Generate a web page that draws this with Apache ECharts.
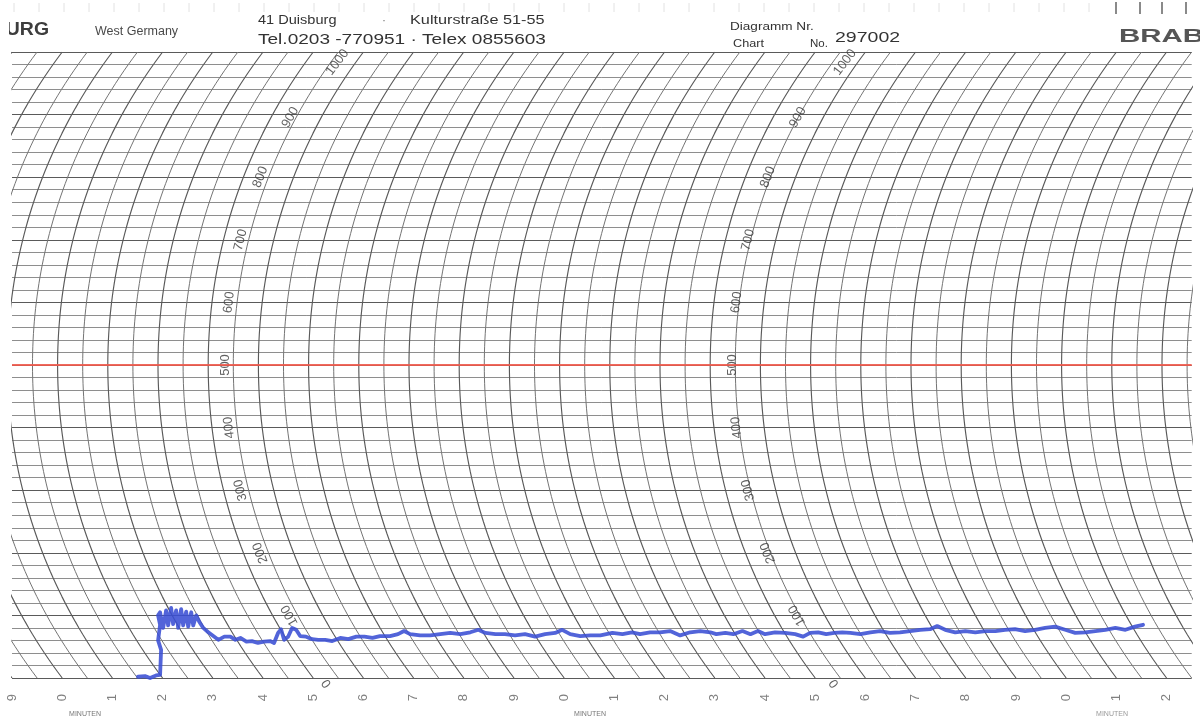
<!DOCTYPE html>
<html>
<head>
<meta charset="utf-8">
<title>Brabender Diagramm 297002</title>
<script src="https://cdn.jsdelivr.net/npm/echarts@6/dist/echarts.min.js"></script>
<style>
  html, body { margin: 0; padding: 0; background: #ffffff; }
  #chart { width: 1200px; height: 720px; }
</style>
</head>
<body>
<div id="chart"></div>
<script>
// Recorded trace: time in minutes, torque in Brabender units (BU)
const traceMinutes = [
  1.51, 1.65, 1.75, 1.87, 1.95, 1.97, 1.91, 1.95, 1.91,
  1.95, 2.01, 2.07, 2.11, 2.17, 2.21, 2.27, 2.31, 2.37, 2.41, 2.47, 2.51, 2.57, 2.61, 2.67, 2.73,
  2.81, 2.91, 3.01, 3.11, 3.23, 3.35, 3.45, 3.55, 3.67, 3.78, 3.90, 4.02, 4.14, 4.22,
  4.30, 4.36, 4.42, 4.50, 4.58, 4.66, 4.74, 4.86, 4.98, 5.10, 5.24, 5.38, 5.54, 5.70,
  5.86, 6.02, 6.18, 6.33, 6.53, 6.69, 6.81, 6.93, 7.13, 7.33, 7.53, 7.73, 7.93, 8.13,
  8.29, 8.43, 8.63, 8.82, 9.02, 9.22, 9.42, 9.62, 9.82, 9.96, 10.12, 10.32, 10.52, 10.72,
  10.96, 11.16, 11.35, 11.51, 11.71, 11.91, 12.11, 12.31, 12.51, 12.71, 12.91, 13.03,
  13.21, 13.37, 13.55, 13.71, 13.86, 14.00, 14.20, 14.40, 14.60, 14.76, 14.90, 15.06,
  15.22, 15.38, 15.54, 15.70, 15.90, 16.10, 16.29, 16.49, 16.69, 16.89, 17.09, 17.29,
  17.43, 17.59, 17.79, 17.99, 18.19, 18.39, 18.59, 18.78, 18.98, 19.18, 19.38, 19.58,
  19.78, 19.98, 20.18, 20.38, 20.58, 20.78, 20.98, 21.18, 21.37, 21.53
];
const traceBU = [
  2, 3, 0, 4, 5, 45, 60, 85, 100,
  105, 80, 108, 84, 112, 86, 108, 80, 110, 84, 106, 82, 105, 84, 100, 90,
  80, 73, 67, 61, 66, 66, 61, 64, 58, 59, 56, 58, 59, 56,
  72, 78, 61, 66, 80, 77, 67, 66, 62, 61, 61, 59, 64, 62,
  66, 66, 64, 67, 67, 70, 75, 70, 68, 68, 70, 72, 70, 73,
  77, 72, 70, 70, 68, 70, 66, 70, 72, 77, 70, 67, 68, 68,
  72, 70, 73, 70, 73, 73, 75, 68, 73, 75, 73, 70,
  72, 70, 75, 70, 75, 70, 73, 72, 70, 66, 72, 73,
  70, 72, 73, 72, 70, 73, 75, 72, 73, 75, 77, 78,
  83, 77, 73, 75, 73, 75, 75, 77, 78, 75, 77, 80,
  82, 77, 72, 73, 75, 77, 80, 77, 82, 85
];

// Scale printed along the chart arcs, and the minute count along the bottom
const scaleValues = [0, 100, 200, 300, 400, 500, 600, 700, 800, 900, 1000];
const scaleColumns = [5.34, 15.45];
const minuteLabels = ['0', '1', '2', '3', '4', '5', '6', '7', '8', '9'];
const referenceLine = 500;

// Paper layout
const X_MIN = -1, X_MAX = 22.5;
const GRID = { left: 12, top: 52, width: 1179.7, height: 626 };
const PX_PER_MIN = GRID.width / (X_MAX - X_MIN);
const PX_PER_BU = GRID.height / 1000;
const PEN_RADIUS = 519;                 // pen arm radius in pixels
const HALF_SPAN = 500 * PX_PER_BU;

// Horizontal shift (minutes) of a time arc at a given BU value
function arcShift(v) {
  const dy = (v - 500) * PX_PER_BU;
  const px = Math.sqrt(PEN_RADIUS * PEN_RADIUS - HALF_SPAN * HALF_SPAN) -
             Math.sqrt(PEN_RADIUS * PEN_RADIUS - dy * dy);
  return px / PX_PER_MIN;
}
// Direction of the arc at a BU value, in degrees (reading upward)
function arcAngle(v) {
  const dy = (v - 500) * PX_PER_BU;
  const slope = dy / Math.sqrt(PEN_RADIUS * PEN_RADIUS - dy * dy);
  return Math.atan2(1, slope) * 180 / Math.PI;
}

const series = [];

// Curved time lines, every half minute
for (let t = -1; t <= 25; t += 0.5) {
  const pts = [];
  for (let v = 0; v <= 1000; v += 10) pts.push([t + arcShift(v), v]);
  const whole = Number.isInteger(t);
  series.push({
    type: 'line', data: pts, showSymbol: false, silent: true, z: 1,
    animation: false, clip: true,
    lineStyle: { color: whole ? '#5a5a5a' : '#747474', width: whole ? 1.15 : 1 }
  });
}

// Scale numbers along two arcs
scaleColumns.forEach(function (t) {
  series.push({
    type: 'scatter', symbolSize: 0, silent: true, z: 3, animation: false,
    data: scaleValues.map(function (v) {
      let off = [0, 0];
      if (v === 1000) off = [-4, 12];
      if (v === 900) off = [-2, 2];
      if (v === 0) off = [-2, -6];
      return {
        value: [t + arcShift(v), v],
        label: { rotate: arcAngle(v), offset: off }
      };
    }),
    label: {
      show: true, position: 'inside', color: '#383838', fontSize: 13,
      fontFamily: 'Liberation Sans, Arial, sans-serif',
      formatter: function (p) { return String(p.value[1]); }
    }
  });
});

// Recorded torque trace with the 500 BU reference line
series.push({
  type: 'line', z: 5, showSymbol: false, silent: true, animation: false,
  data: traceMinutes.map(function (m, i) { return [m, traceBU[i]]; }),
  lineStyle: { color: '#3a4ed4', width: 3.8, opacity: 0.88, join: 'round', cap: 'round' },
  markLine: {
    silent: true, symbol: ['none', 'none'], animation: false,
    label: { show: false },
    lineStyle: { color: '#ee5a4c', width: 2, type: 'solid', opacity: 0.9 },
    data: [{ yAxis: referenceLine }]
  }
});

// Header printing and edge marks
const graphic = [];
for (let x = 14; x < 1110; x += 25) {
  graphic.push({ type: 'line', shape: { x1: x, y1: 3, x2: x, y2: 12 }, style: { stroke: '#e2e2e2', lineWidth: 1 } });
}
[1116, 1140, 1162, 1186].forEach(function (x) {
  graphic.push({ type: 'line', shape: { x1: x, y1: 2, x2: x, y2: 14 }, style: { stroke: '#8a8a8a', lineWidth: 2 } });
});
function txt(x, y, text, font, color, align, sx) {
  graphic.push({
    type: 'text', x: x, y: y, scaleX: sx || 1,
    style: { text: text, font: font, fill: color || '#333', textAlign: align || 'left', textVerticalAlign: 'middle' }
  });
}
const SANS = '"Liberation Sans", Arial, sans-serif';
txt(49, 30, 'DUISBURG', 'bold 18px ' + SANS, '#3d3d3d', 'right', 1.08);
graphic.push({ type: 'rect', shape: { x: 0, y: 16, width: 9, height: 28 }, style: { fill: '#ffffff' } });
txt(95, 32, 'West Germany', '12.5px ' + SANS, '#4a4a4a');
txt(258, 20, '41 Duisburg', '13px ' + SANS, '#333', 'left', 1.12);
txt(382, 21, '·', '12px ' + SANS, '#777');
txt(410, 20, 'Kulturstraße 51-55', '13px ' + SANS, '#333', 'left', 1.25);
txt(258, 40, 'Tel.0203 -770951 · Telex 0855603', '14px ' + SANS, '#333', 'left', 1.36);
txt(730, 27, 'Diagramm Nr.', '11.5px ' + SANS, '#333', 'left', 1.18);
txt(733, 44, 'Chart', '11.5px ' + SANS, '#333', 'left', 1.1);
txt(810, 44, 'No.', '11.5px ' + SANS, '#333');
txt(835, 38, '297002', '15px ' + SANS, '#333', 'left', 1.3);
txt(1119, 37, 'BRABENDER', 'bold 19px ' + SANS, '#555', 'left', 1.55);
txt(85, 714, 'MINUTEN', '7px ' + SANS, '#777', 'center');
txt(590, 714, 'MINUTEN', '7px ' + SANS, '#777', 'center');
txt(1112, 714, 'MINUTEN', '7px ' + SANS, '#999', 'center');

const chart = echarts.init(document.getElementById('chart'), null, { renderer: 'canvas' });
chart.setOption({
  backgroundColor: '#ffffff',
  animation: false,
  grid: { left: GRID.left, top: GRID.top, width: GRID.width, height: GRID.height },
  xAxis: {
    type: 'value', min: X_MIN, max: X_MAX, interval: 1,
    axisLine: { show: false }, axisTick: { show: false }, splitLine: { show: false },
    axisLabel: {
      show: true, rotate: 90, margin: 16, color: '#808080', fontSize: 13,
      fontFamily: 'Liberation Sans, Arial, sans-serif', showMaxLabel: false,
      formatter: function (v) { return minuteLabels[((Math.round(v) % 10) + 10) % 10]; }
    }
  },
  yAxis: {
    type: 'value', min: 0, max: 1000, interval: 100,
    axisLine: { show: false }, axisTick: { show: false }, axisLabel: { show: false },
    splitLine: { show: true, lineStyle: { color: '#5a5a5a', width: 1.2 } },
    minorTick: { show: false, splitNumber: 5 },
    minorSplitLine: { show: true, lineStyle: { color: '#8e8e8e', width: 1 } }
  },
  graphic: graphic,
  series: series
});
</script>
</body>
</html>
